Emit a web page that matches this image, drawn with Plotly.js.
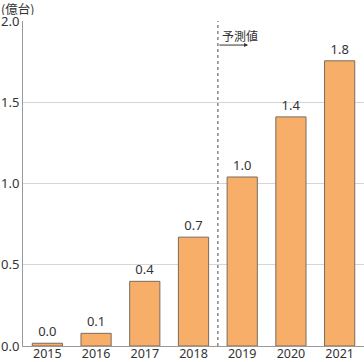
<!DOCTYPE html>
<html>
<head>
<meta charset="utf-8">
<script src="https://cdn.plot.ly/plotly-3.0.1.min.js"></script>
<style>html,body{margin:0;padding:0;background:#fff;}#chart{width:364px;height:362px;}</style>
</head>
<body>
<div id="chart"></div>
<script>
const years = ["2015", "2016", "2017", "2018", "2019", "2020", "2021"];
const shipments = [0.017, 0.078, 0.398, 0.67, 1.04, 1.41, 1.755];
const unitLabel = "(億台)";
const forecastLabel = "予測値";
const yTicks = [0, 0.5, 1.0, 1.5, 2.0];

const FONT = '"Noto Sans", "Noto Sans CJK JP", sans-serif';
const CJK = '"Noto Sans CJK JP", "Noto Sans", sans-serif';

const trace = {
  type: 'bar',
  x: years,
  y: shipments,
  marker: {color: '#F6AE69', line: {color: '#7b6b5e', width: 1}},
  texttemplate: '%{y:.1f}',
  textposition: 'outside',
  cliponaxis: false,
  textfont: {family: FONT, size: 13, color: '#333'},
  hoverinfo: 'none'
};

const layout = {
  width: 364, height: 362,
  margin: {l: 23, r: 0, t: 21, b: 16, pad: 0},
  paper_bgcolor: '#fff', plot_bgcolor: '#fff',
  font: {family: FONT, size: 13, color: '#333'},
  showlegend: false,
  bargap: 0.38,
  xaxis: {type: 'category', showline: true, linecolor: '#999', linewidth: 1, ticks: '', ticklen: 0, ticklabelstandoff: -4, tickfont: {family: FONT, size: 12.5, color: '#333'}, showgrid: false, zeroline: false, fixedrange: true},
  yaxis: {range: [0, 2], tickvals: yTicks, tickformat: '.1f', showline: true, linecolor: '#999', linewidth: 1, showgrid: true, gridcolor: '#d6d6d6', gridwidth: 1, zeroline: false, ticks: '', ticklen: 0, tickfont: {family: FONT, size: 13, color: '#333'}, fixedrange: true},
  shapes: [
    {type: 'line', xref: 'x', yref: 'y', x0: 3.5, x1: 3.5, y0: 0, y1: 2, line: {color: '#888', width: 1.5, dash: 'dot'}}
  ],
  annotations: [
    {xref: 'paper', yref: 'paper', x: 0, y: 1, xanchor: 'left', yanchor: 'top', xshift: -23, yshift: 21, height: 14, valign: 'middle', borderpad: 0, text: unitLabel, showarrow: false, font: {family: CJK, size: 12.5, color: '#333'}},
    {xref: 'x', yref: 'y', x: 4.12, y: 1.852, ax: 3.5, ay: 1.852, axref: 'x', ayref: 'y', text: '', showarrow: true, arrowhead: 2, arrowsize: 0.8, arrowwidth: 1, arrowcolor: '#333'},
    {xref: 'x', yref: 'y', x: 3.55, y: 1.91, xanchor: 'left', yanchor: 'middle', text: forecastLabel, showarrow: false, font: {family: CJK, size: 12, color: '#333'}}
  ]
};

Plotly.newPlot('chart', [trace], layout, {displayModeBar: false, staticPlot: true});
</script>
</body>
</html>
